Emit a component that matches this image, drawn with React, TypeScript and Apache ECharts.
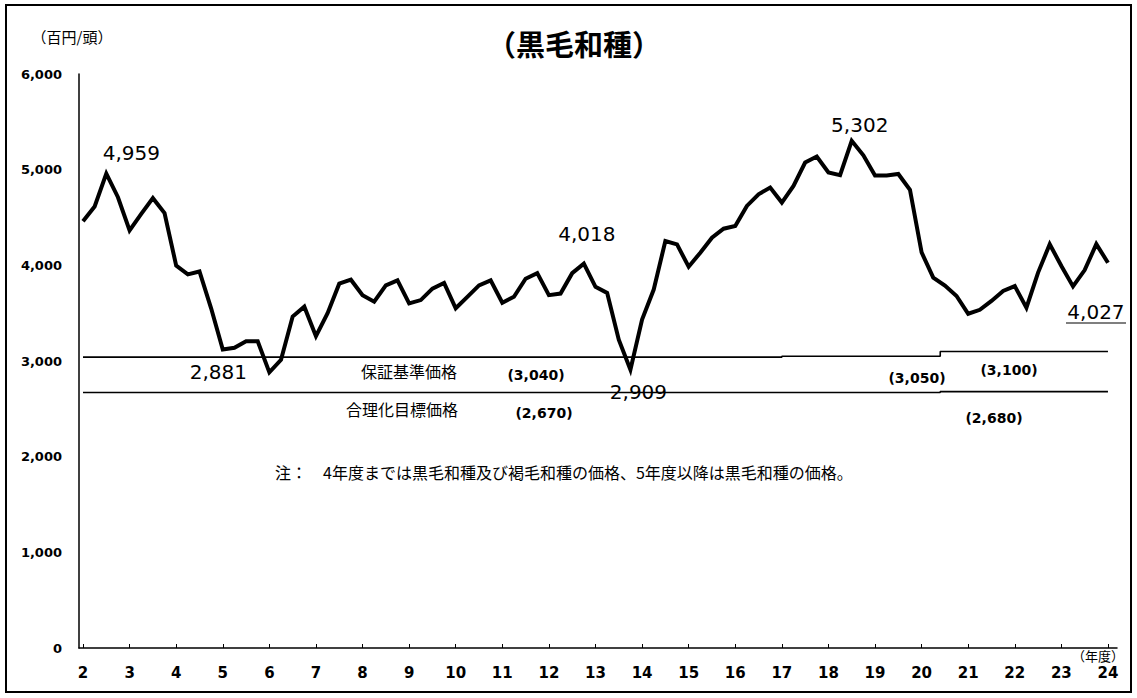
import React, { useEffect, useRef } from "react";
import * as echarts from "echarts";

// quarterly prices (百円/頭), fiscal year 2 Q1 .. year 24 Q1
const startYear = 2;
const priceValues = [
  4461, 4616, 4959, 4712, 4365, 4537, 4702, 4547, 3997, 3905,
  3936, 3551, 3121, 3139, 3207, 3207, 2881, 3012, 3465, 3568,
  3259, 3499, 3808, 3850, 3688, 3620, 3791, 3843, 3602, 3637,
  3757, 3815, 3551, 3671, 3791, 3843, 3609, 3671, 3860, 3918,
  3688, 3705, 3918, 4018, 3775, 3712, 3223, 2909, 3433, 3747,
  4254, 4219, 3985, 4132, 4289, 4383, 4411, 4621, 4743, 4813,
  4656, 4830, 5075, 5138, 4970, 4942, 5302, 5150, 4940, 4940,
  4955, 4790, 4135, 3872, 3788, 3680, 3494, 3535, 3628, 3732,
  3783, 3558, 3924, 4220, 3994, 3780, 3950, 4222, 4027,
];
const yearTicks = [2, 3, 4, 5, 6, 7, 8, 9, 10, 11, 12, 13, 14, 15, 16, 17, 18, 19, 20, 21, 22, 23, 24];

// 保証基準価格
const guaranteeX = [2, 17, 17, 20.4, 20.4, 24];
const guaranteeY = [3040, 3040, 3050, 3050, 3100, 3100];
// 合理化目標価格
const targetX = [2, 20.4, 20.4, 24];
const targetY = [2670, 2670, 2680, 2680];

const labeledIndex = [2, 16, 43, 47, 66, 88];

const fmt = (v: number) => v.toLocaleString("en-US");

export default function App() {
  const ref = useRef<HTMLDivElement>(null);
  useEffect(() => {
    if (!ref.current) return;
    const chart = echarts.init(ref.current, undefined, { renderer: "svg" });
    const num = "DejaVu Sans";
    const jp = "'Noto Sans CJK JP', 'Noto Sans CJK SC', sans-serif";
    const labelOffsets = [
      [25, -21],
      [-51, 0],
      [3, -30],
      [8, 22],
      [8, -16],
      [-12, 49],
    ];
    const txt = (text: string, x: number, y: number, size: number, weight: string, family: string) => ({
      type: "text",
      x,
      y,
      silent: true,
      style: {
        text,
        fill: "#000",
        fontSize: size,
        fontWeight: weight,
        fontFamily: family,
        align: "center",
        verticalAlign: "middle",
        textAlign: "center",
        textVerticalAlign: "middle",
      },
    });
    chart.setOption({
      animation: false,
      backgroundColor: "#fff",
      grid: { left: 79, top: 74, width: 1038, height: 574 },
      xAxis: {
        type: "value",
        min: 1.914,
        max: 24.194,
        axisLine: { show: true, onZero: false, lineStyle: { color: "#000", width: 1.5 } },
        axisTick: { show: true, inside: true, length: 4, customValues: yearTicks, lineStyle: { color: "#000" } },
        axisLabel: {
          customValues: yearTicks,
          margin: 17,
          color: "#000",
          fontSize: 15,
          fontWeight: "bold",
          fontFamily: num,
        },
        splitLine: { show: false },
      },
      yAxis: {
        type: "value",
        min: 0,
        max: 6000,
        interval: 1000,
        axisLine: { show: true, lineStyle: { color: "#000", width: 1.5 } },
        axisTick: { show: false },
        axisLabel: {
          margin: 17,
          color: "#000",
          fontSize: 13,
          fontWeight: "bold",
          fontFamily: num,
          formatter: (v: number) => fmt(v),
        },
        splitLine: { show: false },
      },
      series: [
        {
          type: "line",
          data: guaranteeX.map((x, i) => [x, guaranteeY[i]]),
          symbol: "none",
          lineStyle: { color: "#000", width: 1.6 },
          silent: true,
        },
        {
          type: "line",
          data: targetX.map((x, i) => [x, targetY[i]]),
          symbol: "none",
          lineStyle: { color: "#000", width: 1.6 },
          silent: true,
        },
        {
          type: "line",
          data: priceValues.map((v, i) => [startYear + i / 4, v]),
          symbol: "none",
          lineStyle: { color: "#000", width: 4, join: "miter" },
          z: 5,
        },
        {
          type: "scatter",
          data: labeledIndex.map((idx, k) => ({
            value: [startYear + idx / 4, priceValues[idx]],
            label: { offset: labelOffsets[k] },
          })),
          symbolSize: 0.5,
          itemStyle: { color: "#000" },
          z: 6,
          label: {
            show: true,
            position: "inside",
            formatter: (p: any) => fmt(p.value[1]),
            color: "#000",
            opacity: 1,
            fontSize: 20,
            fontFamily: num,
            textBorderWidth: 0,
          },
        },
      ],
      graphic: [
        {
          type: "rect",
          shape: { x: 6, y: 5, width: 1125, height: 687 },
          style: { fill: "none", stroke: "#000", lineWidth: 2 },
          silent: true,
        },
        txt("（黒毛和種）", 574, 43, 29, "bold", jp),
        txt("（百円/頭）", 72, 36, 15, "normal", jp),
        txt("（年度）", 1098, 655, 13, "normal", jp),
        txt("保証基準価格", 409, 371, 16, "normal", jp),
        txt("合理化目標価格", 402, 409, 16, "normal", jp),
        txt("(3,040)", 536, 375, 14, "bold", num),
        txt("(2,670)", 544, 413, 14, "bold", num),
        txt("(3,050)", 917, 378, 14, "bold", num),
        txt("(3,100)", 1009, 370, 14, "bold", num),
        txt("(2,680)", 994, 418, 14, "bold", num),
        {
          type: "text",
          x: 275,
          y: 472,
          silent: true,
          style: {
            text: "注：　4年度までは黒毛和種及び褐毛和種の価格、5年度以降は黒毛和種の価格。",
            fill: "#000",
            fontSize: 16,
            fontFamily: jp,
            align: "left",
            verticalAlign: "middle",
            textAlign: "left",
            textVerticalAlign: "middle",
          },
        },
        {
          type: "line",
          shape: { x1: 1066, y1: 323, x2: 1126, y2: 323 },
          style: { stroke: "#000", lineWidth: 1.2 },
          silent: true,
        },
      ],
    });
    return () => chart.dispose();
  }, []);
  return (
    <div
      ref={ref}
      style={{ position: "fixed", left: 0, top: 0, width: 1137, height: 698, background: "#fff" }}
    />
  );
}
